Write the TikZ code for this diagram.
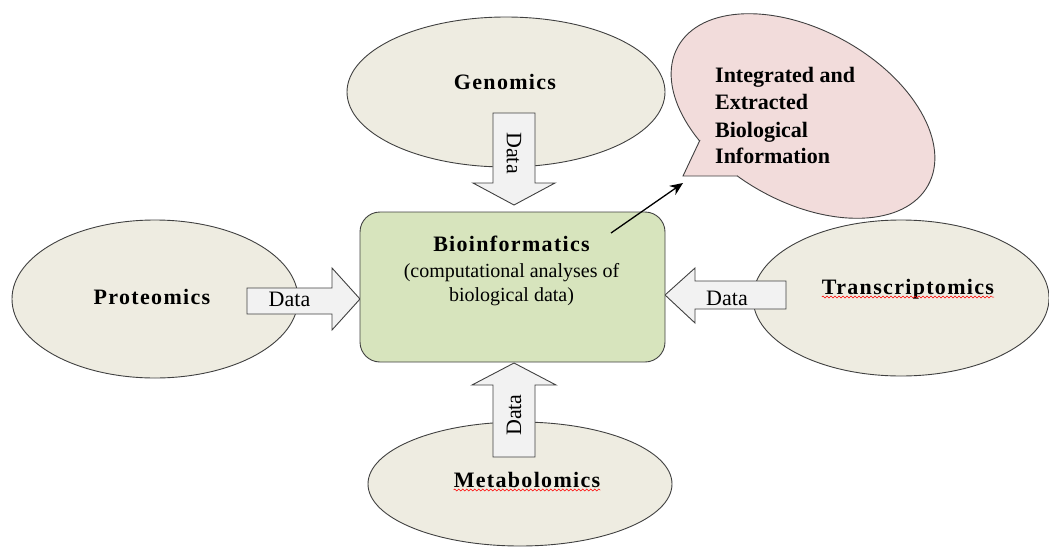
\documentclass[tikz,border=0pt]{standalone}
\usepackage{fontspec}
\setmainfont{Liberation Serif}
\usetikzlibrary{shapes.geometric,arrows.meta,decorations.pathmorphing}
\definecolor{ellfill}{HTML}{EEECE1}
\definecolor{boxfill}{HTML}{D7E4BD}
\definecolor{callfill}{HTML}{F2DCDB}
\definecolor{arrfill}{HTML}{F2F2F2}
\definecolor{edgec}{HTML}{404040}
\begin{document}
\begin{tikzpicture}[x=1pt,y=-1pt,
  omic/.style={ellipse, draw=edgec, fill=ellfill, line width=0.9pt, inner sep=0pt},
  lbl/.style={font=\fontsize{22}{26}\selectfont\bfseries\addfontfeatures{LetterSpace=6}, inner sep=0pt, anchor=base},
  calltxt/.style={font=\fontsize{22}{27}\selectfont\bfseries, inner sep=0pt, anchor=base west},
  subtxt/.style={font=\fontsize{20}{24}\selectfont, inner sep=0pt, anchor=base},
  datatxt/.style={font=\fontsize{22}{26}\selectfont, inner sep=0pt},
  blockarrow/.style={draw=edgec, fill=arrfill, line width=0.9pt, line join=miter},
  spell/.style={red, line width=0.5pt, decorate, decoration={snake, segment length=4pt, amplitude=1pt}}
]
\useasboundingbox (0,0) rectangle (1049,546);

% ellipses
\node[omic, minimum width=318pt, minimum height=150pt] (genE) at (506,92) {};
\node[omic, minimum width=286pt, minimum height=158pt] (proE) at (155,299) {};
\node[omic, minimum width=296pt, minimum height=156pt] (traE) at (901,298) {};
\node[omic, minimum width=304pt, minimum height=124pt] (metE) at (520,484) {};

% callout
\node[ellipse, rotate=-29, draw=edgec, fill=callfill, line width=0.9pt, inner sep=0pt,
      minimum width=286pt, minimum height=172pt] (callE) at (803,116) {};
\coordinate (cnotch) at (700,140);
\coordinate (ctip) at (683,176);
\coordinate (cbase) at (737,176);
\fill[callfill] (cnotch) -- (ctip) -- (cbase) -- (740,150) -- cycle;
\draw[draw=edgec, line width=0.9pt, line join=miter] (cnotch) -- (ctip) -- (cbase);

% block arrows
\draw[blockarrow] (247,288) -- (332,288) -- (332,268) -- (360,299) -- (332,330) -- (332,314) -- (247,314) -- cycle;
\draw[blockarrow] (786,281) -- (695,281) -- (695,268) -- (665,295) -- (695,323) -- (695,309) -- (786,309) -- cycle;
\draw[blockarrow] (493,113) -- (535,113) -- (535,183) -- (555,183) -- (514,205) -- (473,183) -- (493,183) -- cycle;
\draw[blockarrow] (493,457) -- (535,457) -- (535,385) -- (556,385) -- (514,363) -- (472,385) -- (493,385) -- cycle;

% central box
\node[draw=edgec, fill=boxfill, line width=0.9pt, rounded corners=20pt,
      minimum width=305pt, minimum height=150pt, inner sep=0pt] (bio) at (512.5,287) {};

% labels
\node[lbl] (genT) at (505,89) {Genomics};
\node[lbl] (proT) at (152,304) {Proteomics};
\node[lbl] (traT) at (908,294) {Transcriptomics};
\node[lbl] (metT) at (527,487) {Metabolomics};
\node[lbl] (bioT) at (511.5,251) {Bioinformatics};
\node[subtxt] (sub1) at (511.5,277) {(computational analyses of};
\node[subtxt] (sub2) at (511.5,301) {biological data)};

\node[calltxt] (cl1) at (715,82) {Integrated and};
\node[calltxt] (cl2) at (715,109) {Extracted};
\node[calltxt] (cl3) at (715,137) {Biological};
\node[calltxt] (cl4) at (715,163) {Information};

\node[datatxt, anchor=base] (dL) at (289.5,306) {Data};
\node[datatxt, anchor=base] (dR) at (727,305) {Data};
\node[datatxt, rotate=-90] (dT) at (514,153) {Data};
\node[datatxt, rotate=90] (dB) at (514,415) {Data};

% spell-check underlines
\draw[spell] ([yshift=-3pt]traT.base west) -- ([yshift=-3pt]traT.base east);
\draw[spell] ([yshift=-3pt]metT.base west) -- ([yshift=-3pt]metT.base east);

% connector
\coordinate (cstart) at (611,233);
\coordinate (carrow) at (683,183);
\draw[-{Stealth[length=13pt,width=11pt]}, line width=1.3pt] (cstart) -- (carrow);
\end{tikzpicture}
\end{document}
